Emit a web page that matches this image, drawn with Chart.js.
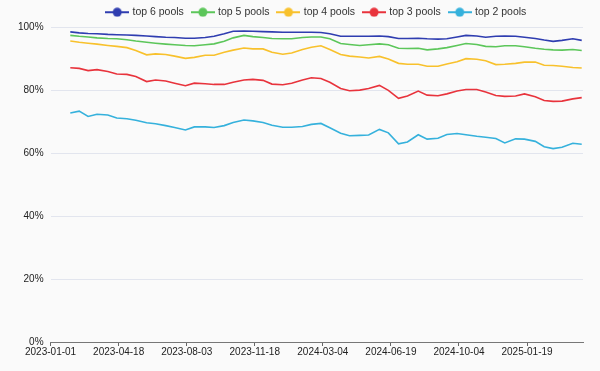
<!DOCTYPE html>
<html>
<head>
<meta charset="utf-8">
<script src="https://cdn.jsdelivr.net/npm/chart.js@4"></script>
<style>
  body { margin: 0; background: #fafafa; }
  #wrap { width: 600px; height: 371px; }
</style>
</head>
<body>
<div id="wrap"><canvas id="poolChart"></canvas></div>
<script>
const startDate = "2023-01-01";
const endDay = 837;
const tickStep = 107;

const dates = [
  "2023-02-01", "2023-02-15", "2023-03-01", "2023-03-15", "2023-04-01", "2023-04-15",
  "2023-05-01", "2023-05-15", "2023-06-01", "2023-06-15", "2023-07-01", "2023-07-15",
  "2023-08-01", "2023-08-15", "2023-09-01", "2023-09-15", "2023-10-01", "2023-10-15",
  "2023-11-01", "2023-11-15", "2023-12-01", "2023-12-15", "2024-01-01", "2024-01-15",
  "2024-02-01", "2024-02-15", "2024-03-01", "2024-03-15", "2024-04-01", "2024-04-15",
  "2024-05-01", "2024-05-15", "2024-06-01", "2024-06-15", "2024-07-01", "2024-07-15",
  "2024-08-01", "2024-08-15", "2024-09-01", "2024-09-15", "2024-10-01", "2024-10-15",
  "2024-11-01", "2024-11-15", "2024-12-01", "2024-12-15", "2025-01-01", "2025-01-15",
  "2025-02-01", "2025-02-15", "2025-03-01", "2025-03-15", "2025-04-01", "2025-04-15",
];

const top6 = [
  98.6, 98.3, 98.1, 98.0, 97.8, 97.7, 97.6, 97.5, 97.3, 97.1, 96.9, 96.8,
  96.6, 96.6, 96.8, 97.2, 98.0, 98.8, 98.9, 98.8, 98.7, 98.6, 98.5, 98.5,
  98.5, 98.5, 98.4, 98.0, 97.2, 97.2, 97.2, 97.2, 97.3, 97.1, 96.5, 96.5,
  96.6, 96.4, 96.3, 96.4, 97.0, 97.5, 97.3, 96.9, 97.2, 97.3, 97.2, 96.9,
  96.5, 96.0, 95.6, 95.9, 96.4, 95.9,
];
const top5 = [
  97.5, 97.2, 97.0, 96.7, 96.5, 96.4, 96.1, 95.7, 95.3, 95.0, 94.7, 94.5,
  94.3, 94.2, 94.5, 94.8, 95.6, 96.7, 97.5, 97.1, 96.8, 96.5, 96.4, 96.4,
  96.8, 97.0, 97.0, 96.4, 94.9, 94.6, 94.3, 94.5, 94.8, 94.5, 93.4, 93.3,
  93.4, 92.9, 93.2, 93.6, 94.3, 94.9, 94.6, 94.0, 93.9, 94.2, 94.2, 93.9,
  93.4, 93.1, 92.9, 92.8, 93.0, 92.7,
];
const top4 = [
  95.7, 95.3, 95.0, 94.7, 94.3, 94.0, 93.6, 92.7, 91.3, 91.6, 91.4, 90.9,
  90.2, 90.5, 91.2, 91.2, 92.1, 92.8, 93.5, 93.2, 93.2, 92.1, 91.5, 91.9,
  93.0, 93.7, 94.2, 93.0, 91.4, 90.9, 90.6, 90.3, 90.8, 90.0, 88.6, 88.3,
  88.3, 87.7, 87.7, 88.4, 89.1, 90.1, 89.9, 89.4, 88.2, 88.3, 88.6, 89.0,
  89.0, 88.0, 87.9, 87.7, 87.3, 87.1,
];
const top3 = [
  87.2, 87.0, 86.3, 86.6, 86.0, 85.2, 85.1, 84.4, 82.8, 83.3, 83.0, 82.3,
  81.5, 82.3, 82.1, 81.9, 81.9, 82.6, 83.3, 83.5, 83.2, 82.0, 81.8, 82.3,
  83.3, 84.0, 83.8, 82.6, 80.6, 79.9, 80.1, 80.6, 81.6, 80.0, 77.5, 78.2,
  79.8, 78.5, 78.3, 78.9, 79.8, 80.3, 80.3, 79.5, 78.4, 78.1, 78.2, 78.9,
  78.0, 76.8, 76.5, 76.6, 77.3, 77.7,
];
const top2 = [
  72.8, 73.4, 71.7, 72.4, 72.2, 71.2, 71.0, 70.5, 69.7, 69.4, 68.8, 68.2,
  67.4, 68.4, 68.4, 68.2, 68.8, 69.8, 70.6, 70.3, 69.8, 68.9, 68.3, 68.3,
  68.5, 69.2, 69.5, 68.1, 66.4, 65.6, 65.7, 65.8, 67.6, 66.5, 63.0, 63.6,
  65.9, 64.5, 64.8, 66.0, 66.3, 65.9, 65.4, 65.1, 64.7, 63.3, 64.6, 64.5,
  63.8, 62.1, 61.5, 61.9, 63.2, 62.9,
];

const seriesNames = ["top 6 pools", "top 5 pools", "top 4 pools", "top 3 pools", "top 2 pools"];
const seriesValues = [top6, top5, top4, top3, top2];
const seriesColors = ["#2f3db0", "#5cc65a", "#f8c12c", "#e8333c", "#35b1dc"];

const dayMs = 86400000;
const startMs = Date.parse(startDate);
const dayOffset = (d) => Math.round((Date.parse(d) - startMs) / dayMs);
const formatDay = (v) => new Date(startMs + v * dayMs).toISOString().slice(0, 10);

// legend marker: a short line with a dot in the middle
const legendIcon = (color) => {
  const c = document.createElement("canvas");
  c.width = 24;
  c.height = 10;
  const g = c.getContext("2d");
  g.strokeStyle = color;
  g.lineWidth = 2;
  g.beginPath();
  g.moveTo(0, 5);
  g.lineTo(24, 5);
  g.stroke();
  g.fillStyle = color;
  g.beginPath();
  g.arc(12, 5, 4.5, 0, Math.PI * 2);
  g.fill();
  return c;
};

const datasets = seriesNames.map((name, i) => ({
  label: name,
  data: seriesValues[i].map((v, j) => ({ x: dayOffset(dates[j]), y: v })),
  borderColor: seriesColors[i],
  backgroundColor: seriesColors[i],
  borderWidth: 1.6,
  pointRadius: 0,
  pointHoverRadius: 0,
  pointStyle: legendIcon(seriesColors[i]),
  tension: 0,
}));

new Chart(document.getElementById("poolChart"), {
  type: "line",
  data: { datasets },
  options: {
    responsive: true,
    maintainAspectRatio: false,
    animation: false,
    layout: { padding: { left: 11, right: 17, top: -2, bottom: 13 } },
    plugins: {
      legend: {
        position: "top",
        fullSize: false,
        labels: {
          usePointStyle: true,
          pointStyleWidth: 20,
          padding: 9,
          color: "#333",
          font: { family: "'Liberation Sans', Arial, sans-serif", size: 10.5 },
        },
      },
      tooltip: { enabled: false },
    },
    scales: {
      x: {
        type: "linear",
        min: 0,
        max: endDay,
        grid: { drawOnChartArea: false, drawTicks: true, tickLength: 4, color: "#666" },
        border: { display: true, color: "#777" },
        ticks: {
          stepSize: tickStep,
          includeBounds: false,
          autoSkip: false,
          maxRotation: 0,
          padding: 0,
          color: "#222",
          font: { family: "'Liberation Sans', Arial, sans-serif", size: 10 },
          callback: (v) => formatDay(v),
        },
      },
      y: {
        min: 0,
        max: 100,
        grid: { color: "#e2e5ee", drawTicks: false },
        border: { display: false },
        ticks: {
          stepSize: 20,
          padding: 7,
          color: "#222",
          font: { family: "'Liberation Sans', Arial, sans-serif", size: 10 },
          callback: (v) => v + "%",
        },
      },
    },
  },
});
</script>
</body>
</html>
